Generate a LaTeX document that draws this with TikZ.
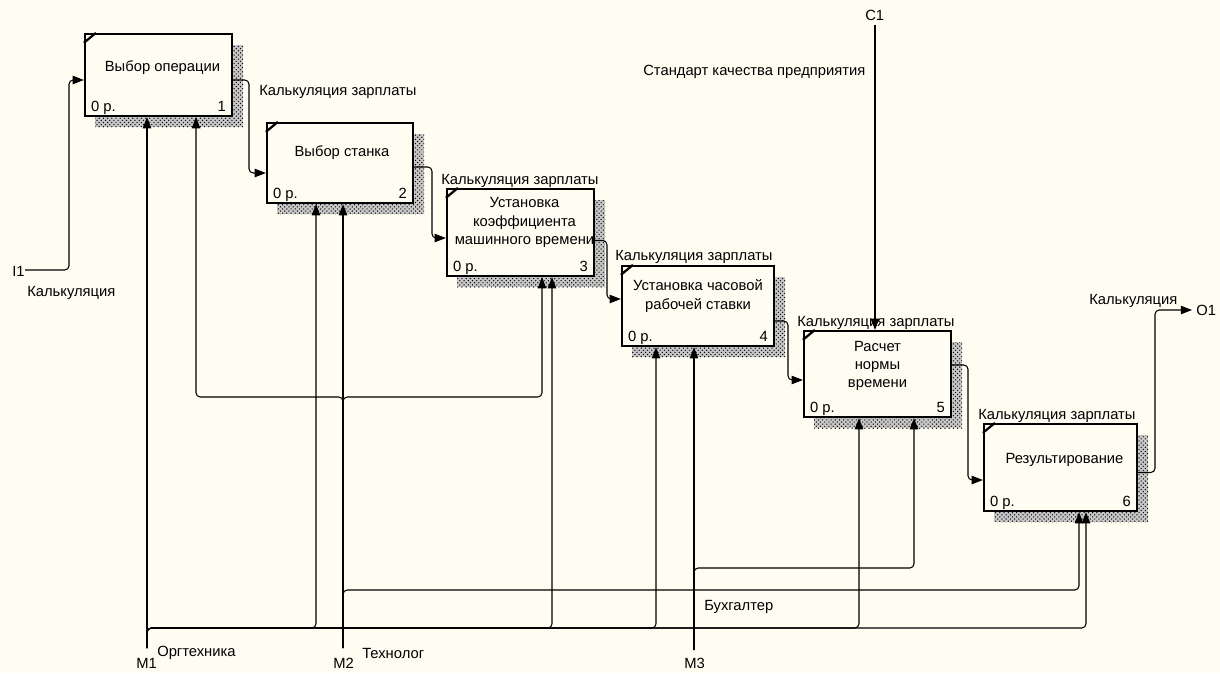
\documentclass[tikz,border=0pt]{standalone}
\usepackage{fontspec}
\setmainfont{Liberation Sans}
\usetikzlibrary{calc,patterns,fit,arrows.meta}
\definecolor{paper}{RGB}{255,252,242}
\def\hatchshadow(#1,#2)(#3,#4){\fill[black!22] (#1+10,#2+11) rectangle (#3+11,#4+11); \fill[pattern=crosshatch dots, pattern color=black] (#1+10,#2+11) rectangle (#3+11,#4+11);}
\def\notch(#1){\draw[line width=1.6pt] ($(#1.north west)+(0,10)$) -- ($(#1.north west)+(12,0)$);}
\tikzset{
	fnbox/.style={draw, line width=1.6pt, fill=paper, inner sep=0pt},
	fntext/.style={align=center, inner sep=0pt},
	lbl/.style={anchor=west, inner sep=0pt},
	wire/.style={line width=0.75pt, rounded corners=3pt},
	arr/.style={wire, -{Triangle[length=8pt,width=6pt]}}
}
\begin{document}
\begin{tikzpicture}[x=0.025cm, y=-0.025cm, font=\fontsize{10.5}{13}\selectfont]
		%%%%% START %%%%%
		\fill[paper] (0,0) rectangle (1220,673);
		\useasboundingbox (0,0) rectangle (1220,673);
		
		\hatchshadow(85,34)(232,116)
		\hatchshadow(267,123)(413,203)
		\hatchshadow(447,189)(594,276)
		\hatchshadow(622,266)(774,346)
		\hatchshadow(804,331)(951,417)
		\hatchshadow(984,424)(1137,511)
		
		\node[fnbox, fit={(85,34) (232,116)}] (b1) {};
		\node[fnbox, fit={(267,123) (413,203)}] (b2) {};
		\node[fnbox, fit={(447,189) (594,276)}] (b3) {};
		\node[fnbox, fit={(622,266) (774,346)}] (b4) {};
		\node[fnbox, fit={(804,331) (951,417)}] (b5) {};
		\node[fnbox, fit={(984,424) (1137,511)}] (b6) {};
		\foreach \b in {b1,b2,b3,b4,b5,b6} {\notch(\b)}
		
		\node[fntext] (t1) at ($(b1.center)+(4,-7)$) {Выбор операции};
		\node[fntext] (t2) at ($(b2.center)+(2,-10)$) {Выбор станка};
		\node[fntext] (t3) at ($(b3.center)+(4,-10)$) {Установка\\коэффициента\\машинного времени};
		\node[fntext] (t4) at ($(b4.center)+(0,-10)$) {Установка часовой\\рабочей ставки};
		\node[fntext] (t5) at ($(b5.center)+(0,-8)$) {Расчет\\нормы\\времени};
		\node[fntext] (t6) at ($(b6.center)+(4,-8)$) {Результирование};
		
		\foreach \b/\n in {b1/1,b2/2,b3/3,b4/4,b5/5,b6/6} {
			\node[anchor=base west, inner sep=0pt] (\b c) at ($(\b.south west)+(7,-6)$) {0 р.};
			\node[anchor=base east, inner sep=0pt] (\b n) at ($(\b.south east)+(-7,-6)$) {\n};
		}
		
		% boundary arrows
		\coordinate (i1) at (25,270);
		\coordinate (o1) at (1192,310);
		\coordinate (c1) at (875,25);
		\coordinate (m1) at (147,648);
		\coordinate (m2) at (343,648);
		\coordinate (m3) at (694,650);
		
		\draw[arr] (i1) -- (69,270) |- ($(b1.west)+(0,5)$);
		\draw[arr] (c1) -- (c1 |- b5.north);
		
		% outputs
		\draw[arr] ($(b1.east)+(0,5)$) -| (249,173) -- (b2.west |- 0,173);
		\draw[arr] ($(b2.east)+(0,4)$) -| (432,238) -- (b3.west |- 0,238);
		\draw[arr] ($(b3.east)+(0,8)$) -| (607,299) -- (b4.west |- 0,299);
		\draw[arr] ($(b4.east)+(0,15)$) -| (788,380) -- (b5.west |- 0,380);
		\draw[arr] ($(b5.east)+(0,-9)$) -| (968,480) -- (b6.west |- 0,480);
		\draw[arr] ($(b6.east)+(0,5)$) -| (1155,310) -- (o1);
		
		% mechanisms
		\draw[arr] (m1) -- (m1 |- b1.south);
		\draw[arr] (m1) |- (316,628) -- (316,0 |- b2.south);
		\draw[arr] (m1) |- (552,628) -- (552,0 |- b3.south);
		\draw[arr] (m1) |- (656,628) -- (656,0 |- b4.south);
		\draw[arr] (m1) |- (859,628) -- (859,0 |- b5.south);
		\draw[arr] (m1) |- (1086,628) -- (1086,0 |- b6.south);
		
		\draw[arr] (m2) -- (m2 |- b2.south);
		\draw[arr] (m2) |- (196,397) -- (196,0 |- b1.south);
		\draw[arr] (m2) |- (542,397) -- (542,0 |- b3.south);
		\draw[arr] (m2) |- (1079,590) -- (1079,0 |- b6.south);
		
		\draw[arr] (m3) -- (m3 |- b4.south);
		\draw[arr] (m3) |- (914,568) -- (914,0 |- b5.south);
		
		% labels
		\node[lbl] (l1) at (259,92) {Калькуляция зарплаты};
		\node[lbl] (l2) at (441,181) {Калькуляция зарплаты};
		\node[lbl] (l3) at (615,257) {Калькуляция зарплаты};
		\node[lbl] (l4) at (797,323) {Калькуляция зарплаты};
		\node[lbl] (l5) at (978,416) {Калькуляция зарплаты};
		\node[lbl] (lo1) at (1089,301) {Калькуляция};
		\node[lbl] (no1) at (1196,310) {O1};
		\node[lbl] (ni1) at (12,271) {I1};
		\node[lbl] (li1) at (27,293) {Калькуляция};
		\node[lbl] (nc1) at (865,15) {C1};
		\node[lbl] (lc1) at (643,72) {Стандарт качества предприятия};
		\node[lbl] (nm1) at (136,663) {M1};
		\node[lbl] (lm1) at (157,653) {Оргтехника};
		\node[lbl] (nm2) at (333,663) {M2};
		\node[lbl] (lm2) at (362,653) {Технолог};
		\node[lbl] (nm3) at (684,663) {M3};
		\node[lbl] (lm3) at (704,607) {Бухгалтер};
		
		%%%%% END %%%%%
	\end{tikzpicture}
\end{document}
